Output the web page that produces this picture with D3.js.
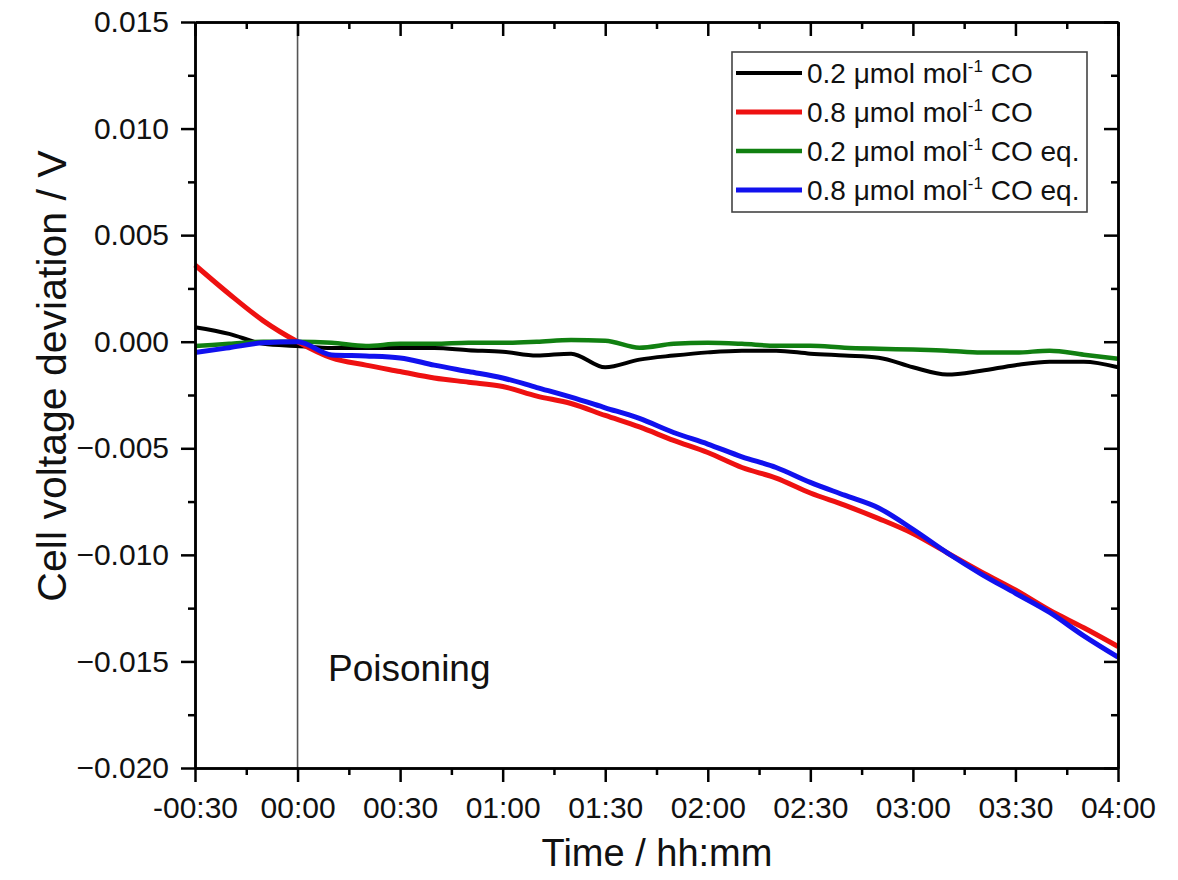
<!DOCTYPE html>
<html>
<head>
<meta charset="utf-8">
<script src="https://cdn.jsdelivr.net/npm/d3@7"></script>
<style>
  body { margin: 0; background: #fff; }
  svg { display: block; font-family: "Liberation Sans", Arial, sans-serif; }
  .axis path, .axis line { stroke: #000; }
  .axis text { fill: #111; }
</style>
</head>
<body>
<svg id="chart" width="1178" height="880"></svg>
<script>
// time in minutes relative to start of poisoning
const time = [-30, -20, -10, 0, 10, 20, 30, 40, 50, 60, 70, 80, 90, 100,
  110, 120, 130, 140, 150, 160, 170, 180, 190, 200, 210, 220, 230, 240];

const co02 = [0.00068, 0.00037, -0.0001, -0.0002, -0.0003, -0.0003, -0.0003, -0.0003, -0.0004, -0.00047,
  -0.00065, -0.00056, -0.0012, -0.00084, -0.00065, -0.0005, -0.00042, -0.00042, -0.00056, -0.00065,
  -0.00075, -0.0012, -0.00154, -0.00136, -0.0011, -0.00094, -0.00094, -0.0012];
const co08 = [0.0036, 0.00224, 0.00098, 0, -0.00076, -0.0011, -0.0014, -0.0017, -0.0019, -0.0021,
  -0.00255, -0.0029, -0.00346, -0.0040, -0.00463, -0.0052, -0.0059, -0.0064, -0.0071, -0.00767,
  -0.0083, -0.0090, -0.0099, -0.0108, -0.01165, -0.0126, -0.01342, -0.0143];
const coEq02 = [-0.0002, -0.0001, 0, 0, -0.00005, -0.0002, -0.0001, -0.0001, -0.00005, -0.00005,
  0, 0.00008, 0.00005, -0.00028, -0.0001, -0.00005, -0.0001, -0.00019, -0.00019, -0.00028,
  -0.00033, -0.00037, -0.00042, -0.00051, -0.00051, -0.00042, -0.00061, -0.0008];
const coEq08 = [-0.00051, -0.00028, -0.00005, 0, -0.00062, -0.00067, -0.00076, -0.0011, -0.0014, -0.0017,
  -0.00215, -0.0026, -0.0031, -0.0036, -0.00426, -0.0048, -0.0054, -0.0059, -0.0066, -0.0072,
  -0.0078, -0.0088, -0.0099, -0.0109, -0.0118, -0.0127, -0.0138, -0.0148];

const seriesNames = ["0.2 ", "0.8 ", "0.2 ", "0.8 "];
const seriesSuffix = [" CO", " CO", " CO eq.", " CO eq."];
const seriesColors = ["#000000", "#ee1111", "#118011", "#1111ee"];
const seriesWidths = [4, 5, 4.5, 5];
const seriesValues = [co02, co08, coEq02, coEq08];

const xTicks = [-30, 0, 30, 60, 90, 120, 150, 180, 210, 240];
const yTicks = [-0.02, -0.015, -0.01, -0.005, 0, 0.005, 0.01, 0.015];

const margin = { left: 195, right: 1118, top: 22, bottom: 768 };

const svg = d3.select("#chart");

const x = d3.scaleLinear().domain([-30, 240]).range([margin.left, margin.right]);
const y = d3.scaleLinear().domain([-0.02, 0.015]).range([margin.bottom, margin.top]);

const xMinor = d3.range(-15, 240, 30);
const yMinor = d3.range(-0.0175, 0.015, 0.005);

const fmtTime = m => {
  const a = Math.abs(m);
  const s = String(Math.floor(a / 60)).padStart(2, "0") + ":" + String(a % 60).padStart(2, "0");
  return m < 0 ? "-" + s : s;
};
const fmtV = d3.format(".3f");

// vertical marker at start of poisoning
svg.append("line")
  .attr("x1", x(0)).attr("x2", x(0))
  .attr("y1", margin.top).attr("y2", margin.bottom)
  .attr("stroke", "#555").attr("stroke-width", 1.6);

// data lines
const line = d3.line()
  .x((d, i) => x(time[i]))
  .y(d => y(d))
  .curve(d3.curveMonotoneX);

svg.append("g").selectAll("path")
  .data(seriesValues)
  .join("path")
  .attr("d", line)
  .attr("fill", "none")
  .attr("stroke", (d, i) => seriesColors[i])
  .attr("stroke-width", (d, i) => seriesWidths[i])
  .attr("stroke-linejoin", "round");

// axes: bottom/left outward ticks, top/right inward ticks
function styleAxis(g) {
  g.attr("class", "axis");
  g.select(".domain").attr("stroke-width", 2.5);
  g.selectAll(".tick line").attr("stroke-width", 2.5);
}

svg.append("g")
  .attr("transform", `translate(0,${margin.bottom})`)
  .call(d3.axisBottom(x).tickValues(xTicks).tickFormat(fmtTime).tickSize(14).tickSizeOuter(0).tickPadding(15))
  .call(styleAxis)
  .call(g => g.selectAll("text").attr("font-size", 30));
svg.append("g")
  .attr("transform", `translate(0,${margin.bottom})`)
  .call(d3.axisBottom(x).tickValues(xMinor).tickFormat("").tickSize(7).tickSizeOuter(0))
  .call(styleAxis);

svg.append("g")
  .attr("transform", `translate(0,${margin.top})`)
  .call(d3.axisTop(x).tickValues(xTicks).tickFormat("").tickSize(-14).tickSizeOuter(0))
  .call(styleAxis);
svg.append("g")
  .attr("transform", `translate(0,${margin.top})`)
  .call(d3.axisTop(x).tickValues(xMinor).tickFormat("").tickSize(-7).tickSizeOuter(0))
  .call(styleAxis);

svg.append("g")
  .attr("transform", `translate(${margin.left},0)`)
  .call(d3.axisLeft(y).tickValues(yTicks).tickFormat(fmtV).tickSize(14).tickSizeOuter(0).tickPadding(12))
  .call(styleAxis)
  .call(g => g.selectAll("text").attr("font-size", 30));
svg.append("g")
  .attr("transform", `translate(${margin.left},0)`)
  .call(d3.axisLeft(y).tickValues(yMinor).tickFormat("").tickSize(7).tickSizeOuter(0))
  .call(styleAxis);

svg.append("g")
  .attr("transform", `translate(${margin.right},0)`)
  .call(d3.axisRight(y).tickValues(yTicks).tickFormat("").tickSize(-14).tickSizeOuter(0))
  .call(styleAxis);
svg.append("g")
  .attr("transform", `translate(${margin.right},0)`)
  .call(d3.axisRight(y).tickValues(yMinor).tickFormat("").tickSize(-7).tickSizeOuter(0))
  .call(styleAxis);

// axis titles
svg.append("text")
  .attr("x", 657).attr("y", 866)
  .attr("text-anchor", "middle")
  .attr("font-size", 38).attr("fill", "#111")
  .text("Time / hh:mm");

svg.append("text")
  .attr("transform", "translate(66,376) rotate(-90)")
  .attr("text-anchor", "middle")
  .attr("font-size", 41).attr("fill", "#111")
  .text("Cell voltage deviation / V");

svg.append("text")
  .attr("x", 328).attr("y", 681)
  .attr("font-size", 37).attr("fill", "#111")
  .text("Poisoning");

// legend
const legend = svg.append("g");
legend.append("rect")
  .attr("x", 732).attr("y", 52).attr("width", 355).attr("height", 160)
  .attr("fill", "#fff").attr("stroke", "#444").attr("stroke-width", 1.6);

const rows = legend.selectAll("g.row")
  .data(seriesColors)
  .join("g")
  .attr("class", "row")
  .attr("transform", (d, i) => `translate(0,${73 + i * 39})`);

rows.append("line")
  .attr("x1", 736).attr("x2", 802)
  .attr("stroke", d => d)
  .attr("stroke-width", (d, i) => seriesWidths[i]);

const lt = rows.append("text")
  .attr("x", 807).attr("y", 10)
  .attr("font-size", 28).attr("fill", "#111");
lt.append("tspan").text((d, i) => seriesNames[i] + "\u03bcmol mol");
lt.append("tspan").attr("font-size", 17).attr("dy", -11).text("-1");
lt.append("tspan").attr("dy", 11).text((d, i) => seriesSuffix[i]);
</script>
</body>
</html>
